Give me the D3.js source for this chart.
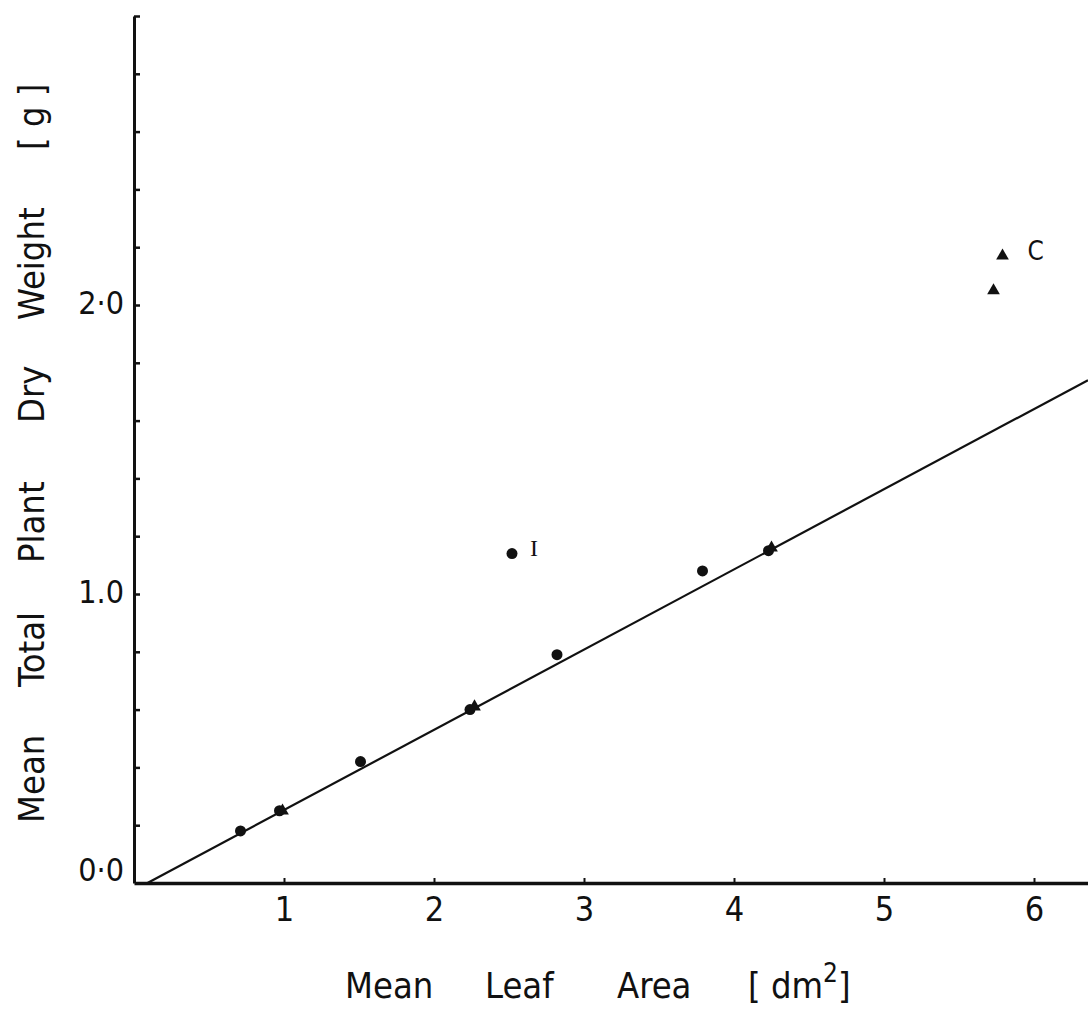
<!DOCTYPE html>
<html>
<head>
<meta charset="utf-8">
<script src="https://cdn.jsdelivr.net/npm/d3@7"></script>
<style>
  html, body { margin: 0; padding: 0; background: #fff; }
  text { font-family: "DejaVu Sans Condensed", "DejaVu Sans", sans-serif; fill: #111; }
</style>
</head>
<body>
<svg id="chart" width="1088" height="1010"></svg>
<script>
// measured points (leaf area dm2, total dry weight g)
const circleX = [0.71, 0.97, 1.51, 2.24, 2.82, 3.79, 4.23, 2.52];
const circleY = [0.18, 0.25, 0.42, 0.60, 0.79, 1.08, 1.15, 1.14];
const triangleX = [0.99, 2.27, 4.25, 5.79, 5.73];
const triangleY = [0.25, 0.61, 1.16, 2.17, 2.05];
const pointLabels = [{ text: 'I', x: 2.52, y: 1.14 }, { text: 'C', x: 5.79, y: 2.17 }];

// regression line end points
const fitX = [0.09, 6.36];
const fitY = [0.0, 1.74];

const xTicks = [1, 2, 3, 4, 5, 6];
const yTicks = [0.2, 0.4, 0.6, 0.8, 1.0, 1.2, 1.4, 1.6, 1.8, 2.0, 2.2, 2.4, 2.6, 2.8, 3.0];
const yLabels = { 0: '0·0', 1: '1.0', 2: '2·0' };

const svg = d3.select('#chart');

const x = d3.scaleLinear().domain([0, 6.36]).range([134, 1088]);
const y = d3.scaleLinear().domain([0, 3.0]).range([883, 16]);

const ink = '#111';

// y axis, ticks pointing in
const gy = svg.append('g')
  .attr('transform', `translate(${x(0)},0)`)
  .call(d3.axisLeft(y).tickValues(yTicks).tickSizeInner(-6).tickSizeOuter(0).tickFormat(''));
gy.select('.domain').attr('stroke', ink).attr('stroke-width', 3);
gy.selectAll('.tick line').attr('stroke', ink).attr('stroke-width', 2.5);

// y tick labels
svg.append('g').selectAll('text')
  .data([0, 1, 2])
  .join('text')
  .attr('x', 124)
  .attr('y', d => y(d) + (d === 0 ? -11 : 0))
  .attr('text-anchor', 'end')
  .attr('dominant-baseline', 'middle')
  .attr('font-size', 32)
  .text(d => yLabels[d]);

// x axis, ticks pointing up
const gx = svg.append('g')
  .attr('transform', `translate(0,${y(0)})`)
  .call(d3.axisBottom(x).tickValues(xTicks).tickSizeInner(-5).tickSizeOuter(0).tickPadding(14).tickFormat(d3.format('d')));
gx.select('.domain').attr('stroke', ink).attr('stroke-width', 3.5);
gx.selectAll('.tick line').attr('stroke', ink).attr('stroke-width', 2);
gx.selectAll('.tick text')
  .attr('font-size', 34)
  .style('font-family', '"DejaVu Sans Condensed", "DejaVu Sans", sans-serif')
  .attr('fill', ink);

// fitted line
svg.append('path')
  .datum(d3.zip(fitX, fitY))
  .attr('fill', 'none')
  .attr('stroke', ink)
  .attr('stroke-width', 2.2)
  .attr('d', d3.line().x(d => x(d[0])).y(d => y(d[1])));

// circles
svg.append('g').selectAll('circle')
  .data(d3.zip(circleX, circleY))
  .join('circle')
  .attr('cx', d => x(d[0]))
  .attr('cy', d => y(d[1]))
  .attr('r', 5.5)
  .attr('fill', ink);

// triangles
svg.append('g').selectAll('path')
  .data(d3.zip(triangleX, triangleY))
  .join('path')
  .attr('transform', d => `translate(${x(d[0])},${y(d[1])})`)
  .attr('d', d3.symbol().type(d3.symbolTriangle).size(70))
  .attr('fill', ink);

// point labels
svg.append('g').selectAll('text')
  .data(pointLabels)
  .join('text')
  .attr('x', d => x(d.x) + (d.text === 'I' ? 18 : 25))
  .attr('y', d => y(d.y) - 3)
  .attr('dominant-baseline', 'middle')
  .attr('font-size', d => d.text === 'I' ? 24 : 26)
  .style('font-family', d => d.text === 'I' ? '"Liberation Serif", "DejaVu Serif", serif' : null)
  .text(d => d.text);

// x axis title, words spread out like the original
const xWords = [['Mean', 345], ['Leaf', 485], ['Area', 617]];
svg.append('g').selectAll('text')
  .data(xWords)
  .join('text')
  .attr('x', d => d[1])
  .attr('y', 998)
  .attr('font-size', 36)
  .text(d => d[0]);
const unit = svg.append('text').attr('x', 748).attr('y', 998).attr('font-size', 36);
unit.append('tspan').text('[ dm');
unit.append('tspan').attr('font-size', 26).attr('dy', -16).text('2');
unit.append('tspan').attr('dy', 16).text(']');

// y axis title, rotated, words spread out
const yWords = [['Mean', 823], ['Total', 687], ['Plant', 563], ['Dry', 423], ['Weight', 320], ['[ g ]', 150]];
svg.append('g').selectAll('text')
  .data(yWords)
  .join('text')
  .attr('transform', d => `translate(44,${d[1]}) rotate(-90)`)
  .attr('font-size', 36)
  .text(d => d[0]);
</script>
</body>
</html>
